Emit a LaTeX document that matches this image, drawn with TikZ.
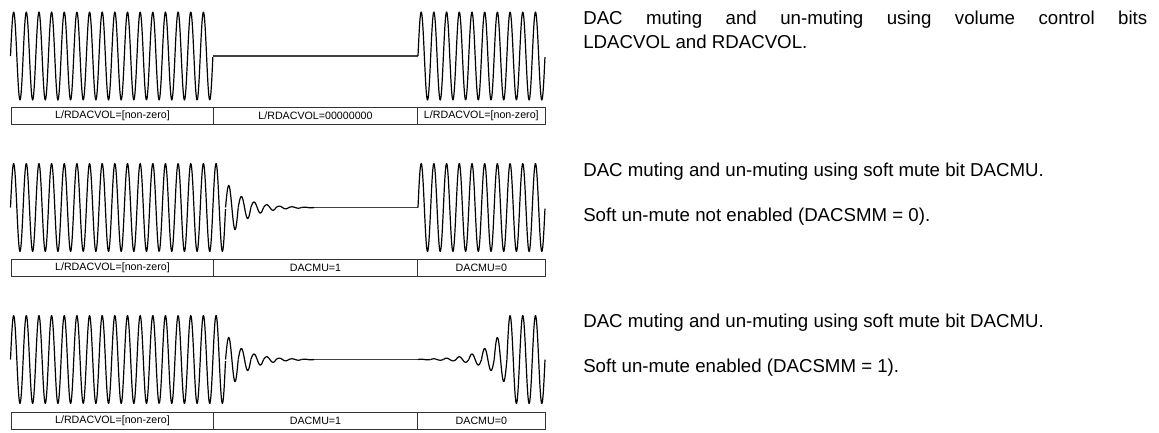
\documentclass[tikz,border=0pt]{standalone}
\usepackage{fontspec}
\setmainfont{Liberation Sans}
\begin{document}
\begin{tikzpicture}[x=0.75pt,y=-0.75pt,
  wave/.style={line width=0.9pt, black, line join=round},
  flat/.style={line width=0.9pt, black!75},
  cell/.style={draw=black!80, line width=0.75pt, minimum height=12.75pt, inner sep=0pt, anchor=north west, font=\fontsize{8}{9.6}\selectfont},
  desc/.style={anchor=west, inner sep=0pt, font=\fontsize{14}{16.8}\selectfont}]
\useasboundingbox (0,0) rectangle (1159,432);
\def\PL{12.65}\def\XL{10.5}\def\PR{12.7}\def\XR{418}\def\A{44}

% ---------- panel 1 ----------
\draw[wave] plot[domain=0:16, samples=420] ({\XL+\PL*\x},{56-\A*sin(360*\x)});
\coordinate (f1a) at ({\XL+16*\PL},56);
\coordinate (f1b) at (\XR,56);
\draw[flat] (f1a) -- (f1b);
\draw[wave] plot[domain=0:10, samples=280] ({\XR+\PR*\x},{56-\A*sin(360*\x)});

% ---------- panel 2 ----------
\draw[wave] plot[domain=0:17, samples=440] ({\XL+\PL*\x},{207.5-\A*sin(360*\x)});
\foreach \n in {0,...,6}
  \draw[wave] plot[domain=0:1, samples=30] ({\XL+(17+\n+\x)*\PL},{207.5-\A*0.5^(\n+1)*sin(360*\x)});
\coordinate (f2a) at ({\XL+24*\PL},207.5);
\coordinate (f2b) at (\XR,207.5);
\draw[flat] (f2a) -- (f2b);
\draw[wave] plot[domain=0:10, samples=280] ({\XR+\PR*\x},{207.5-\A*sin(360*\x)});

% ---------- panel 3 ----------
\draw[wave] plot[domain=0:17, samples=440] ({\XL+\PL*\x},{359.5-\A*sin(360*\x)});
\foreach \n in {0,...,6}
  \draw[wave] plot[domain=0:1, samples=30] ({\XL+(17+\n+\x)*\PL},{359.5-\A*0.5^(\n+1)*sin(360*\x)});
\coordinate (f3a) at ({\XL+24*\PL},359.5);
\coordinate (f3b) at (\XR,359.5);
\draw[flat] (f3a) -- (f3b);
\foreach \n in {0,...,6}
  \draw[wave] plot[domain=0:1, samples=30] ({\XR+(\n+\x)*\PR},{359.5-\A*0.5^(7-\n)*sin(360*\x)});
\draw[wave] plot[domain=7:10, samples=90] ({\XR+\PR*\x},{359.5-\A*sin(360*\x)});

% ---------- cells ----------
\node[cell, minimum width=151.95pt] (c1a) at (10.7,107) {L/RDACVOL=[non-zero]};
\node[cell, minimum width=152.55pt] (c1b) at (213.3,107) {L/RDACVOL=00000000};
\node[cell, minimum width=96.2pt] (c1c) at (416.7,107) {L/RDACVOL=[non-zero]};

\node[cell, minimum width=151.95pt] (c2a) at (10.7,258.5) {L/RDACVOL=[non-zero]};
\node[cell, minimum width=152.55pt] (c2b) at (213.3,258.5) {DACMU=1};
\node[cell, minimum width=96.2pt] (c2c) at (416.7,258.5) {DACMU=0};

\node[cell, minimum width=151.95pt] (c3a) at (10.7,411.5) {L/RDACVOL=[non-zero]};
\node[cell, minimum width=152.55pt] (c3b) at (213.3,411.5) {DACMU=1};
\node[cell, minimum width=96.2pt] (c3c) at (416.7,411.5) {DACMU=0};

% ---------- descriptions ----------
\node[desc] (t1a) at (583,20) {\makebox[423pt][s]{DAC muting and un-muting using volume control bits}};
\node[desc] (t1b) at (583,42) {LDACVOL and RDACVOL.};
\node[desc] (t2a) at (583,172) {DAC muting and un-muting using soft mute bit DACMU.};
\node[desc] (t2b) at (583,217) {Soft un-mute not enabled (DACSMM = 0).};
\node[desc] (t3a) at (583,323) {DAC muting and un-muting using soft mute bit DACMU.};
\node[desc] (t3b) at (583,368) {Soft un-mute enabled (DACSMM = 1).};
\end{tikzpicture}
\end{document}
